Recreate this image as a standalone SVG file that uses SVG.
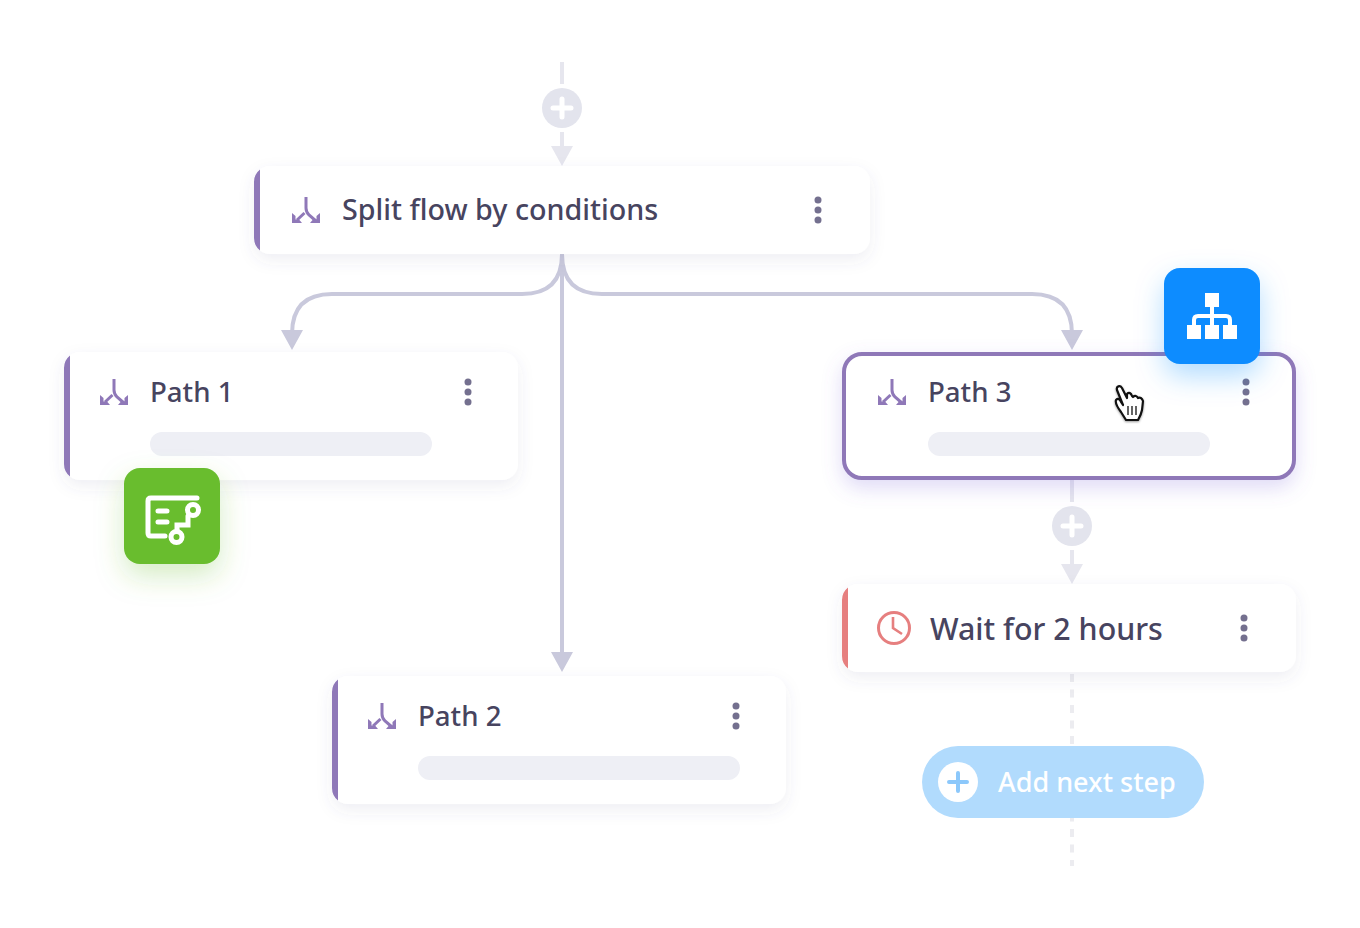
<svg xmlns="http://www.w3.org/2000/svg" width="1360" height="928" viewBox="0 0 1360 928">
<style>
.lbl{font-family:"Noto Sans","Open Sans",sans-serif;fill:#47445f;font-size:28.700px;font-weight:500}
.sm{font-size:27.600px}
.card{fill:#fff;filter:url(#sh)}
.bar{fill:#eeeff5}
.dot{fill:#74708f}
.ic{fill:none;stroke:#8f78b8;stroke-width:3}
.ich{fill:#8f78b8}
.c{fill:none;stroke:#c9c9dc;stroke-width:4}
.cl{fill:none;stroke:#e6e6ee;stroke-width:4}
.d{fill:none;stroke:#ececf0;stroke-width:4;stroke-dasharray:8 7.500}
</style>
<defs>
<filter id="sh" x="-10%" y="-30%" width="120%" height="170%"><feDropShadow dx="0" dy="6" stdDeviation="8" flood-color="#5a5a80" flood-opacity=".09"/></filter>
<filter id="shP" x="-10%" y="-30%" width="120%" height="170%"><feDropShadow dx="0" dy="8" stdDeviation="10" flood-color="#7b68d8" flood-opacity=".24"/></filter>
<filter id="shG" x="-50%" y="-50%" width="200%" height="200%"><feDropShadow dx="0" dy="12" stdDeviation="14" flood-color="#69bd2f" flood-opacity=".28"/></filter>
<filter id="shB" x="-50%" y="-50%" width="200%" height="200%"><feDropShadow dx="0" dy="12" stdDeviation="14" flood-color="#0a8cff" flood-opacity=".3"/></filter>
<g id="split">
<path class="ic" d="M14 0V11Q14 15 17 18L24 24"/><path class="ic" d="M12.500 16L5 23"/>
<path class="ich" d="M0 26V16L3.500 19V22.500H7L10 26Z"/>
<path class="ich" d="M28 26V16L24.500 19V22.500H21L18 26Z"/>
</g>
<g id="dots"><circle cx="0" cy="-10" r="3.500" class="dot"/><circle cx="0" cy="0" r="3.500" class="dot"/><circle cx="0" cy="10" r="3.500" class="dot"/></g>
</defs>
<rect width="1360" height="928" fill="#fff"/>

<g id="connectors">
<path class="cl" d="M562 62V84M562 132V150"/>
<path d="M551 146H573L562 166Z" fill="#e6e6ee"/>
<path class="c" d="M562 254V656"/>
<path class="c" d="M562 254Q562 294 522 294H332Q292 294 292 334"/>
<path class="c" d="M562 254Q562 294 602 294H1032Q1072 294 1072 334"/>
<path d="M281 330H303L292 350Z M1061 330H1083L1072 350Z M551 652H573L562 672Z" fill="#c9c9dc"/>
<path class="cl" d="M1072 480V502M1072 550V568"/>
<path d="M1061 564H1083L1072 584Z" fill="#e6e6ee"/>
<path class="d" d="M1072 674V866"/>
</g>

<g id="add-top"><circle cx="562" cy="108" r="20" fill="#e3e4ed"/><path d="M562 99V117M553 108H571" stroke="#fff" stroke-width="5" stroke-linecap="round"/></g>
<g id="add-mid"><circle cx="1072" cy="526" r="20" fill="#e3e4ed"/><path d="M1072 517V535M1063 526H1081" stroke="#fff" stroke-width="5" stroke-linecap="round"/></g>

<g id="node-split">
<rect x="254" y="166" width="616" height="88" rx="16" class="card"/>
<path d="M260 169.500A16 16 0 0 0 254 182V238A16 16 0 0 0 260 250.500Z" fill="#8f78b8"/>
<use href="#split" x="292" y="197"/>
<text x="342" y="220" class="lbl">Split flow by conditions</text>
<use href="#dots" x="818" y="210"/>
</g>

<g id="node-path1">
<rect x="64" y="352" width="454" height="128" rx="16" class="card"/>
<path d="M70 355.500A16 16 0 0 0 64 368V464A16 16 0 0 0 70 476.500Z" fill="#8f78b8"/>
<use href="#split" x="100" y="379"/>
<text x="150" y="402" class="lbl sm">Path 1</text>
<rect x="150" y="432" width="282" height="24" rx="12" class="bar"/>
<use href="#dots" x="468" y="392"/>
</g>

<g id="node-path2">
<rect x="332" y="676" width="454" height="128" rx="16" class="card"/>
<path d="M338 679.500A16 16 0 0 0 332 692V788A16 16 0 0 0 338 800.500Z" fill="#8f78b8"/>
<use href="#split" x="368" y="703"/>
<text x="418" y="726" class="lbl sm">Path 2</text>
<rect x="418" y="756" width="322" height="24" rx="12" class="bar"/>
<use href="#dots" x="736" y="716"/>
</g>

<g id="node-path3">
<rect x="844" y="354" width="450" height="124" rx="18" fill="#fff" stroke="#8f78b8" stroke-width="4" filter="url(#shP)"/>
<use href="#split" x="878" y="379"/>
<text x="928" y="402" class="lbl sm">Path 3</text>
<rect x="928" y="432" width="282" height="24" rx="12" class="bar"/>
<use href="#dots" x="1246" y="392"/>
</g>

<g id="node-wait">
<rect x="842" y="584" width="454" height="88" rx="16" class="card"/>
<path d="M848 587.500A16 16 0 0 0 842 600V656A16 16 0 0 0 848 668.500Z" fill="#e67f7f"/>
<circle cx="894" cy="628" r="15.500" fill="none" stroke="#e67f7f" stroke-width="3"/>
<path d="M893 617V628L902 634" fill="none" stroke="#e67f7f" stroke-width="2.600"/>
<text x="930" y="640" class="lbl" style="font-size:30.400px">Wait for 2 hours</text>
<use href="#dots" x="1244" y="628"/>
</g>

<g id="add-next">
<rect x="922" y="746" width="282" height="72" rx="36" fill="#b1dbfd"/>
<circle cx="958" cy="782" r="20" fill="#fff"/>
<path d="M958 773V791M949 782H967" stroke="#8cc8fb" stroke-width="4" stroke-linecap="round"/>
<text x="998" y="792" font-family="Noto Sans, Open Sans, sans-serif" font-size="27" font-weight="500" fill="#fff">Add next step</text>
</g>

<g id="badge-green">
<rect x="124" y="468" width="96" height="96" rx="16" fill="#69bd2f" filter="url(#shG)"/>
<g fill="none" stroke="#fff" stroke-width="5" stroke-linecap="round">
<path d="M197 498H151Q148 498 148 501V533Q148 536 151 536H165"/>
<path d="M158 511H167M158 522H167"/>
<circle cx="193" cy="510" r="5.500"/>
<circle cx="176.500" cy="537" r="5.500"/>
<path d="M188 516V525H177V531"/>
</g>
</g>

<g id="badge-blue">
<rect x="1164" y="268" width="96" height="96" rx="16" fill="#0a8cff" filter="url(#shB)"/>
<g fill="#fff">
<rect x="1205" y="293" width="14" height="14"/>
<rect x="1187" y="325" width="14" height="14"/>
<rect x="1205" y="325" width="14" height="14"/>
<rect x="1223" y="325" width="14" height="14"/>
</g>
<path d="M1212 307V325M1194 325V320Q1194 316 1198 316H1226Q1230 316 1230 320V325" fill="none" stroke="#fff" stroke-width="4"/>
</g>

<g id="cursor">
<path d="M1121 412C1118 408 1115 403 1116 400C1118 398 1120 399 1121 402L1123 405L1117 390C1116 386 1120 385 1122 388L1127 398L1127 394C1129 392 1131 393 1132 396L1133 397C1135 395 1137 396 1138 398C1140 397 1142 398 1143 401L1142 410C1141 415 1139 418 1138 420H1126Z" fill="#fff" stroke="#111" stroke-width="2.200" stroke-linejoin="round" style="filter:drop-shadow(0 1px 1px rgba(0,0,0,.4))"/>
<path d="M1128 406V415M1132 406V415M1136 406V415" stroke="#111" stroke-width="1.300"/>
</g>
</svg>
